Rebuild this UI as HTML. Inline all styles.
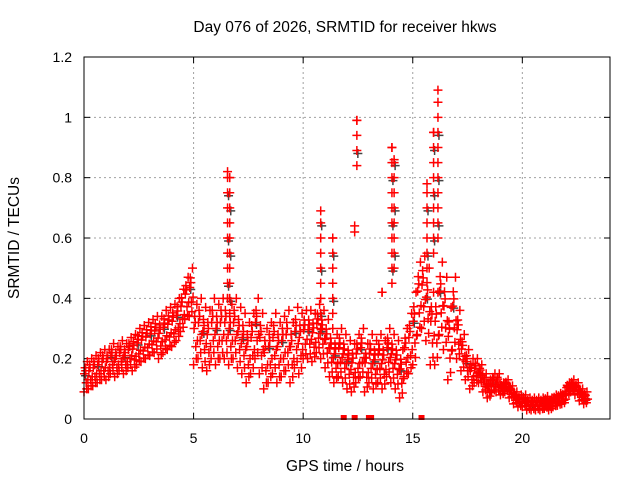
<!DOCTYPE html>
<html><head><meta charset="utf-8"><style>
body{margin:0;background:#fff}
svg{display:block;font-family:"Liberation Sans",sans-serif}
</style></head><body>
<svg id="chart" width="640" height="480" viewBox="0 0 640 480">
<text x="345" y="32" font-size="15.5" text-anchor="middle">Day 076 of 2026, SRMTID for receiver hkws</text>
<text x="345" y="471" font-size="15.5" text-anchor="middle">GPS time / hours</text>
<text transform="translate(19,238) rotate(-90)" font-size="15.5" text-anchor="middle">SRMTID / TECUs</text>
<g id="grid"></g>
<g id="ticks"></g>
<g id="black"></g>
<g id="red"></g>
<rect x="84" y="57" width="526" height="362" fill="none" stroke="#000" stroke-width="1"/>
</svg>
<script>
const xTicks=[0,5,10,15,20];
const yTicks=[0,0.2,0.4,0.6,0.8,1,1.2];
const yTickLabels=["0","0.2","0.4","0.6","0.8","1","1.2"];
const startHour=0, stepHour=0.2;
const midValues=[0.14,0.15,0.16,0.17,0.18, 0.18,0.2,0.19,0.21,0.2, 0.22,0.22,0.24,0.25,0.26,
0.27,0.28,0.27,0.29,0.3, 0.31,0.33,0.36,0.4,0.42, 0.28,0.3,0.27,0.26,0.3,
0.28,0.3,0.3,0.28,0.3, 0.27,0.25,0.22,0.25,0.3, 0.25,0.2,0.22,0.25,0.22,
0.24,0.26,0.22,0.27,0.25, 0.28,0.28,0.27,0.3,0.28, 0.25,0.22,0.2,0.22,0.2,
0.18,0.17,0.2,0.22,0.17, 0.2,0.18,0.2,0.18,0.22, 0.2,0.18,0.15,0.22,0.25,
0.3,0.4,0.42,0.38,0.3, 0.3,0.4,0.35,0.25,0.35, 0.28,0.22,0.18,0.15,0.16,
0.15,0.12,0.1,0.12,0.12, 0.1,0.11,0.09,0.07,0.06, 0.06,0.05,0.05,0.05,0.05,
0.055,0.05,0.06,0.065,0.07, 0.1,0.11,0.1,0.08,0.07];
const spreadValues=[0.05,0.05,0.05,0.05,0.05, 0.05,0.05,0.05,0.05,0.05, 0.05,0.06,0.06,0.06,0.06,
0.06,0.06,0.07,0.07,0.07, 0.07,0.07,0.07,0.07,0.08, 0.1,0.1,0.1,0.1,0.1,
0.1,0.1,0.1,0.1,0.1, 0.1,0.1,0.1,0.1,0.1, 0.1,0.1,0.1,0.1,0.1,
0.1,0.1,0.1,0.1,0.1, 0.08,0.08,0.08,0.08,0.08, 0.08,0.08,0.08,0.08,0.08,
0.08,0.08,0.08,0.08,0.08, 0.08,0.08,0.08,0.08,0.08, 0.08,0.08,0.08,0.08,0.1,
0.12,0.12,0.12,0.12,0.12, 0.12,0.12,0.12,0.12,0.12, 0.08,0.06,0.05,0.05,0.04,
0.03,0.03,0.03,0.03,0.03, 0.02,0.02,0.02,0.02,0.02, 0.02,0.02,0.02,0.02,0.02,
0.02,0.02,0.02,0.02,0.02, 0.02,0.02,0.02,0.02,0.02];
const spikeHours=[6.55,6.65,10.8,11.35,12.35,12.45,13.6,14.05,14.15,15.65,15.95,16.15];
const spikeBase=[0.4,0.35,0.3,0.35,0.62,0.84,0.42,0.45,0.5,0.5,0.55,0.6];
const spikeTops=[0.82,0.8,0.69,0.6,0.64,0.99,0.42,0.9,0.86,0.78,0.95,1.09];
const zeroHours=[11.85,12.35,13.0,13.1,15.4];

const X0=84,X1=610,Y0=419,Y1=57;
const xs=h=>X0+(h-0)/24*(X1-X0);
const ys=v=>Y0-(v-0)/1.2*(Y0-Y1);
const NS="http://www.w3.org/2000/svg";
function mk(t,a,p){const e=document.createElementNS(NS,t);for(const k in a)e.setAttribute(k,a[k]);p.appendChild(e);return e;}
const grid=document.getElementById('grid'),ticks=document.getElementById('ticks');
xTicks.forEach(t=>{
 const x=xs(t);
 if(t>0){const l=mk('line',{x1:x,y1:Y0,x2:x,y2:Y1,stroke:'#a0a0a0','stroke-dasharray':'2,3'},grid);
 
 }
 mk('line',{x1:x,y1:Y0,x2:x,y2:Y0-6,stroke:'#000'},ticks);
 mk('line',{x1:x,y1:Y1,x2:x,y2:Y1+6,stroke:'#000'},ticks);
 const tx=mk('text',{x:x,y:443,'font-size':14,'text-anchor':'middle'},ticks);tx.textContent=t;
 
 
});
yTicks.forEach((t,i)=>{
 const y=ys(t);
 if(i>0&&i<yTicks.length-1){const l=mk('line',{x1:X0,y1:y,x2:X1,y2:y,stroke:'#a0a0a0','stroke-dasharray':'2,3'},grid);
 
 }
 mk('line',{x1:X0,y1:y,x2:X0+6,y2:y,stroke:'#000'},ticks);
 mk('line',{x1:X1,y1:y,x2:X1-6,y2:y,stroke:'#000'},ticks);
 const tx=mk('text',{x:72,y:y+5,'font-size':14,'text-anchor':'end'},ticks);tx.textContent=yTickLabels[i];
 
 
});
const red=document.getElementById('red'),black=document.getElementById('black');
function plus(g,x,y,c){
 const p=mk('path',{d:`M${x-4.5} ${y}h9M${x} ${y-4.5}v9`,stroke:c,'stroke-width':1.5,fill:'none'},g);
 
 
}
const offs=[[0,-1],[0.25,0.6],[0.5,-0.4],[0.75,1],[0.12,0.2],[0.62,-0.8],[0.38,0.4],[0.88,-0.2]];
midValues.forEach((m,i)=>{
 const h=startHour+i*stepHour,s=spreadValues[i];
 offs.forEach(([dx,dy],k)=>{
  const v=Math.max(0.02,m+dy*s);
  if(k===4&&i%3===0)plus(black,xs(h+dx*stepHour)+1,ys(v)+2,'#444');
  plus(red,xs(h+dx*stepHour),ys(v),'#ff0000');
 });
});
spikeHours.forEach((h,i)=>{
 const b=spikeBase[i],t=spikeTops[i];
 let n=0;
 for(let v=b;v<=t+1e-6;v+=0.05){if(n%3===1)plus(black,xs(h)+1,ys(v)+3,'#444');plus(red,xs(h),ys(v),'#ff0000');n++;}
 plus(red,xs(h),ys(t),'#ff0000');
});
zeroHours.forEach(h=>{
 const r=mk('rect',{x:xs(h)-3,y:ys(0)-4,width:6,height:5,fill:'#ff0000'},red);
 
 
});
</script>
</body></html>
